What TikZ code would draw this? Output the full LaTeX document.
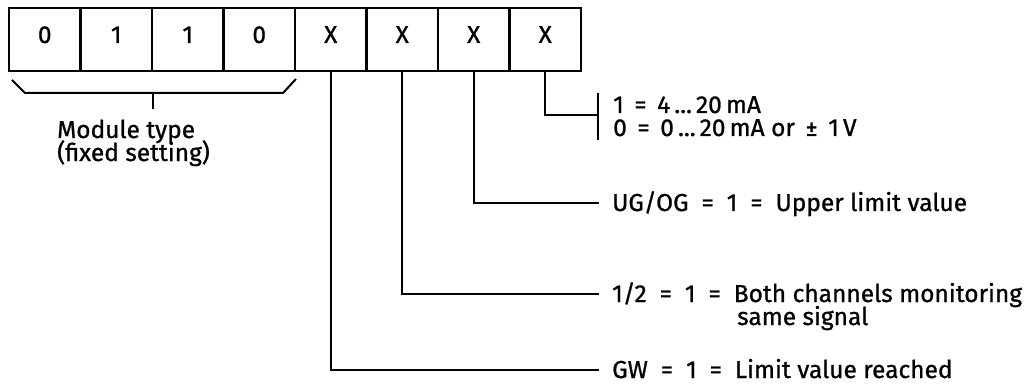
\documentclass[tikz,border=0pt]{standalone}
\usepackage{fontspec}
\setmainfont{Fira Sans}[FakeBold=0.9]
\begin{document}
\begin{tikzpicture}[x=1pt,y=-1pt,
  cell/.style={draw,line width=2.2pt,minimum width=71.5pt,minimum height=63pt,inner sep=0pt,
    text height=17pt,text depth=10pt,font=\fontsize{24.5}{28}\selectfont},
  conn/.style={line width=2pt},
  lbl/.style={anchor=base west,inner sep=0pt,font=\fontsize{24.5}{28}\selectfont}]
\useasboundingbox (0,0) rectangle (1026,385);
\node[cell] (b1) at (44.75,39.5) {0};
\node[cell] (b2) at (116.25,39.5) {1};
\node[cell] (b3) at (187.75,39.5) {1};
\node[cell] (b4) at (259.25,39.5) {0};
\node[cell] (b5) at (330.75,39.5) {X};
\node[cell] (b6) at (402.25,39.5) {X};
\node[cell] (b7) at (473.75,39.5) {X};
\node[cell] (b8) at (545.25,39.5) {X};
% module type bracket
\coordinate (m1) at (12,80);
\coordinate (m2) at (25,93);
\coordinate (m3) at (283,93);
\coordinate (m4) at (296,79);
\coordinate (mt) at (153,93);
\coordinate (mb) at (153,109);
\draw[conn] (m1) -- (m2) -- (m3) -- (m4);
\draw[conn] (mt) -- (mb);
\node[lbl] (mod1) at (57,138) {Module type};
\node[lbl] (mod2) at (57,161) {(fixed setting)};
% bit 8
\coordinate (c8) at (598,115);
\coordinate (k1) at (598,93);
\coordinate (k2) at (598,140);
\draw[conn] (b8.south) |- (c8);
\draw[conn] (k1) -- (k2);
\node[lbl] (t8a) at (613,113) {1 \,=\, 4\,...\,20\,mA};
\node[lbl] (t8b) at (613,136) {0 \,=\, 0\,...\,20\,mA or \,±\, 1\,V};
% bit 7
\coordinate (c7) at (599,203);
\draw[conn] (b7.south) |- (c7);
\node[lbl] (t7) at (612,211) {UG/OG \ = \ 1 \ = \ Upper limit value};
% bit 6
\coordinate (c6) at (599,294);
\draw[conn] (b6.south) |- (c6);
\node[lbl] (t6a) at (612,302) {1/2 \ = \ 1 \ = \ Both channels monitoring};
\node[lbl] (t6b) at (737,325) {same signal};
% bit 5
\coordinate (c5) at (599,370);
\draw[conn] (b5.south) |- (c5);
\node[lbl] (t5) at (612,378) {GW \ = \ 1 \ = \ Limit value reached};
\end{tikzpicture}
\end{document}
